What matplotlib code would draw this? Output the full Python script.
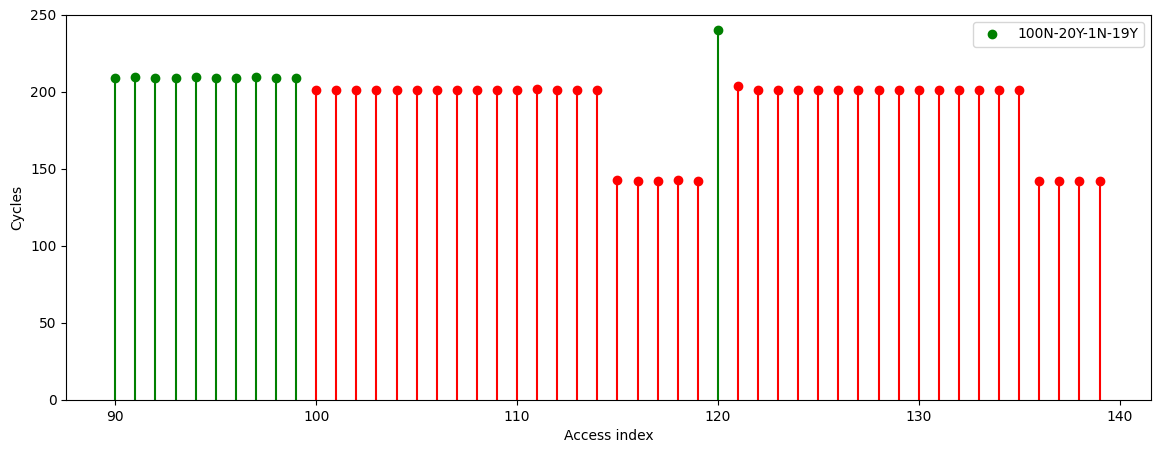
import numpy as np
import matplotlib
matplotlib.use('Agg')
import matplotlib.pyplot as plt

access_index = list(range(90, 140))
cycles = [209, 210, 209, 209, 210, 209, 209, 210, 209, 209,
          201, 201, 201, 201, 201, 201, 201, 201, 201, 201,
          201, 202, 201, 201, 201, 143, 142, 142, 143, 142,
          240, 204, 201, 201, 201, 201, 201, 201, 201, 201,
          201, 201, 201, 201, 201, 201, 142, 142, 142, 142]
hit = [True]*10 + [False]*20 + [True] + [False]*19
label = '100N-20Y-1N-19Y'

x = np.array(access_index)
y = np.array(cycles)
h = np.array(hit)

fig = plt.figure(figsize=(11.6, 4.53), dpi=100)
ax = fig.add_axes([0.057, 0.117, 0.935, 0.85])

ax.vlines(x[h], 0, y[h], colors='green', linewidth=1.5)
ax.vlines(x[~h], 0, y[~h], colors='red', linewidth=1.5)
ax.plot(x[h], y[h], 'o', color='green', markersize=6, label=label)
ax.plot(x[~h], y[~h], 'o', color='red', markersize=6)

ax.set_ylim(0, 250)
ax.set_xlim(87.55, 141.55)
ax.set_xlabel('Access index')
ax.set_ylabel('Cycles')
ax.legend(loc='upper right')

fig.savefig('out.png')
